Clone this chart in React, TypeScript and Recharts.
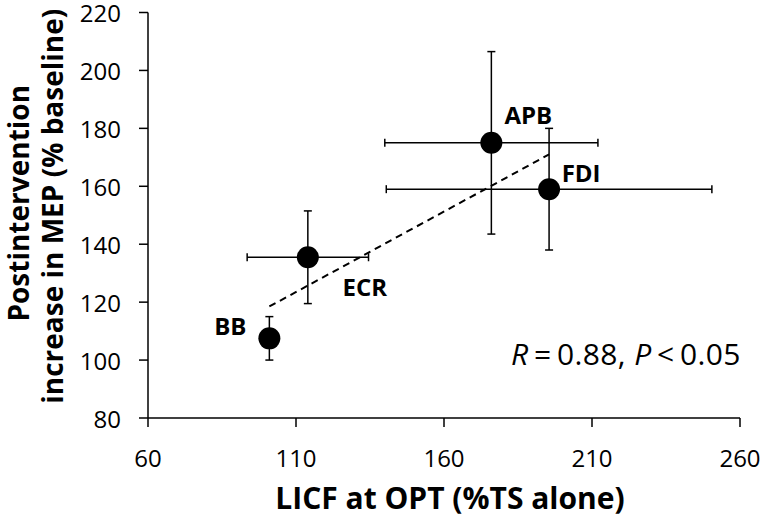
import { ScatterChart, Scatter, XAxis, YAxis, ErrorBar, LabelList, Label } from 'recharts';

const muscles = ['BB', 'ECR', 'APB', 'FDI'];
const licf = [101, 114, 176, 195.5];
const licfErr = [0, 20.5, 36, 55];
const mep = [107.5, 135.5, 175, 159];
const mepErr = [7.5, 16, 31.5, 21];

// regression line end points
const trendX = [101, 195.5];
const trendY = [118.5, 171];

const xTicks = [60, 110, 160, 210, 260];
const yTicks = [80, 100, 120, 140, 160, 180, 200, 220];

const FONT = '"Open Sans", sans-serif';
const INK = '#000';

const points = muscles.map((name, i) => ({
    name,
    x: licf[i],
    y: mep[i],
    xErr: licfErr[i],
    yErr: mepErr[i],
}));
const trend = trendX.map((x, i) => ({ x, y: trendY[i] }));

// where each muscle name sits relative to its dot (px)
const labelShift: Record<string, [number, number]> = {
    BB: [-39, -13],
    ECR: [57, 29],
    APB: [37, -28],
    FDI: [32, -17],
};

const Dot = (props: any) => {
    const { cx, cy } = props;
    if (cx == null || cy == null) return <g />;
    return <circle cx={cx} cy={cy} r={11} fill={INK} />;
};

const NameLabel = (props: any) => {
    const { x, y, width, height, value } = props;
    if (x == null || y == null) return null;
    const cx = x + (width || 0) / 2;
    const cy = y + (height || 0) / 2;
    const [dx, dy] = labelShift[value] || [0, 0];
    return (
        <text
            x={cx + dx}
            y={cy + dy}
            textAnchor="middle"
            dominantBaseline="central"
            fontFamily={FONT}
            fontWeight={700}
            fontSize={24}
            fill={INK}
        >
            {value}
        </text>
    );
};

// tick labels drawn by hand so the gap to the tick mark is exact
const XTick = (props: any) => {
    const { x, y, payload } = props;
    return (
        <text x={x} y={y + 30} textAnchor="middle" dominantBaseline="central" fontFamily={FONT} fontSize={24} fill={INK}>
            {payload.value}
        </text>
    );
};

const YTick = (props: any) => {
    const { x, y, payload } = props;
    return (
        <text x={x - 18} y={y} textAnchor="end" dominantBaseline="central" fontFamily={FONT} fontSize={24} fill={INK}>
            {payload.value}
        </text>
    );
};

const YTitle = (props: any) => {
    const vb = props.viewBox || {};
    const mid = (vb.y || 0) + (vb.height || 0) / 2;
    const c1 = mid - 12;
    const c2 = mid - 9;
    return (
        <g fontFamily={FONT} fontWeight={700} fontSize={28} fill={INK}>
            <text x={18} y={c1} transform={`rotate(-90 18 ${c1})`} textAnchor="middle" dominantBaseline="central">
                Postintervention
            </text>
            <text x={52} y={c2} transform={`rotate(-90 52 ${c2})`} textAnchor="middle" dominantBaseline="central">
                increase in MEP (% baseline)
            </text>
        </g>
    );
};

const XTitle = (props: any) => {
    const vb = props.viewBox || {};
    const cx = (vb.x || 0) + (vb.width || 0) / 2 + 6;
    return (
        <text
            x={cx}
            y={497}
            textAnchor="middle"
            dominantBaseline="central"
            fontFamily={FONT}
            fontWeight={700}
            fontSize={30}
            fill={INK}
        >
            LICF at OPT (%TS alone)
        </text>
    );
};

export default function App() {
    return (
        <div style={{ position: 'absolute', left: 0, top: 0, width: 764, height: 517 }}>
            <ScatterChart width={764} height={517} margin={{ top: 12.5, right: 24, bottom: 0, left: 0 }}>
                <XAxis
                    type="number"
                    dataKey="x"
                    domain={[60, 260]}
                    ticks={xTicks}
                    allowDataOverflow
                    height={99}
                    tick={<XTick />}
                    tickSize={9}
                    tickMargin={0}
                    stroke={INK}
                    strokeWidth={1.5}
                >
                    <Label content={<XTitle />} />
                </XAxis>
                <YAxis
                    type="number"
                    dataKey="y"
                    domain={[80, 220]}
                    ticks={yTicks}
                    allowDataOverflow
                    width={148}
                    tick={<YTick />}
                    tickSize={9}
                    tickMargin={0}
                    stroke={INK}
                    strokeWidth={1.5}
                >
                    <Label content={<YTitle />} />
                </YAxis>
                <Scatter
                    data={trend}
                    line={{ stroke: INK, strokeWidth: 2, strokeDasharray: '7 5' }}
                    shape={() => <g />}
                    isAnimationActive={false}
                />
                <Scatter data={points} shape={<Dot />} isAnimationActive={false}>
                    <ErrorBar dataKey="xErr" direction="x" width={4} stroke={INK} strokeWidth={1.5} />
                    <ErrorBar dataKey="yErr" direction="y" width={4} stroke={INK} strokeWidth={1.5} />
                    <LabelList dataKey="name" content={<NameLabel />} />
                </Scatter>
            </ScatterChart>
            <div
                style={{
                    position: 'absolute',
                    left: 511,
                    top: 334,
                    fontFamily: FONT,
                    fontSize: 30,
                    letterSpacing: 0.4,
                    color: INK,
                    whiteSpace: 'nowrap',
                    lineHeight: '40px',
                }}
            >
                <i>R</i>{'\u2009=\u20090.88, '}<i>P</i>{'\u2009<\u20090.05'}
            </div>
        </div>
    );
}
